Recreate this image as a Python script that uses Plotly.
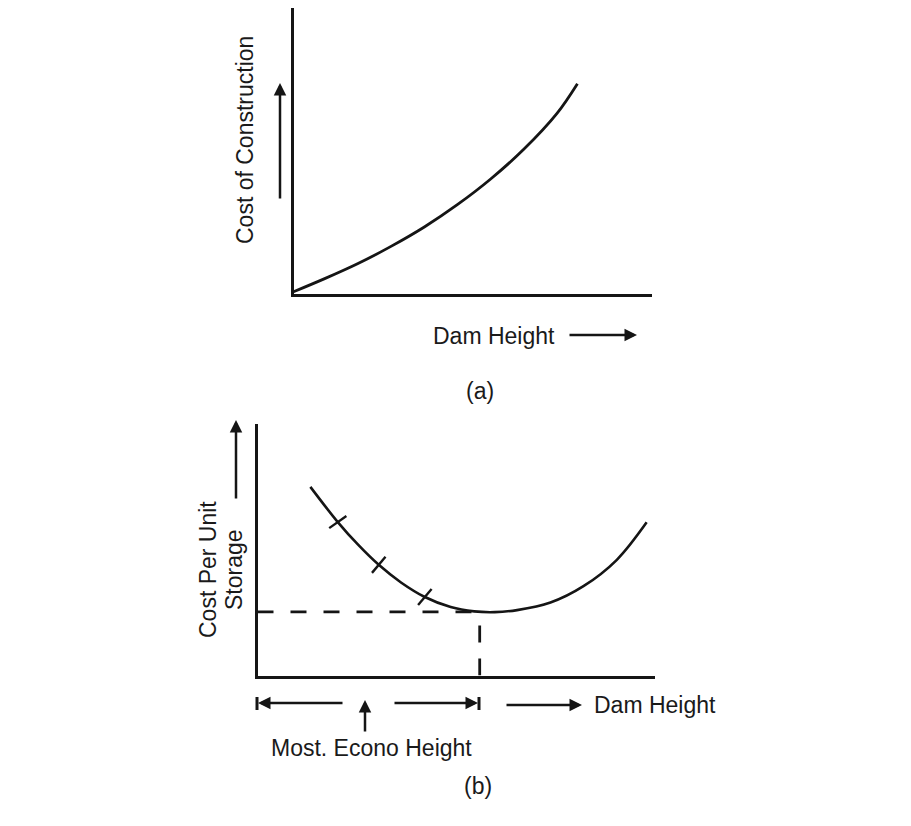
import plotly.graph_objects as go

W, H = 911, 826
OFF = 8  # default page body margin of the browser
INK = "#151515"
FONT = "Liberation Sans, Arial, Helvetica, sans-serif"
FS = 23

# ---- data (arbitrary units 0..10) ----
# (a) cost of construction vs dam height
height_a = [0.0, 0.87, 1.80, 2.72, 3.65, 4.57, 5.50, 6.43, 7.35, 7.92]
cost_a = [0.06, 0.52, 1.05, 1.65, 2.33, 3.11, 4.01, 5.06, 6.31, 7.35]

# (b) cost per unit storage vs dam height
height_b = [1.33, 2.02, 2.53, 3.05, 3.61, 4.21, 4.86, 5.45, 5.97, 6.53, 7.37, 8.20, 9.04, 9.79]
cost_b = [7.50, 6.10, 5.20, 4.40, 3.70, 3.12, 2.72, 2.55, 2.52, 2.60, 2.90, 3.55, 4.60, 6.09]

# tick marks on curve (b)
tick_x = [2.02, 3.05, 4.21]
tick_y = [6.10, 4.40, 3.12]
tick_angle = [55, 40, 40]

# most economical height
econ_x = 5.59
econ_y = 2.53


def px(x):
    return (x - OFF) / W


def py(y):
    return 1 - (y - OFF) / H


fig = go.Figure()

fig.add_trace(go.Scatter(x=height_a, y=cost_a, mode="lines", xaxis="x", yaxis="y",
                         line=dict(color=INK, width=2.8, shape="spline"), hoverinfo="skip"))

fig.add_trace(go.Scatter(x=height_b, y=cost_b, mode="lines", xaxis="x2", yaxis="y2",
                         line=dict(color=INK, width=2.6, shape="spline"), hoverinfo="skip"))

fig.add_trace(go.Scatter(x=tick_x, y=tick_y, mode="markers", xaxis="x2", yaxis="y2",
                         marker=dict(symbol="line-ns", size=15, angle=tick_angle,
                                     color=INK, line=dict(color=INK, width=2.4)),
                         hoverinfo="skip"))

fig.add_trace(go.Scatter(x=[0, econ_x], y=[econ_y, econ_y], mode="lines", xaxis="x2", yaxis="y2",
                         line=dict(color=INK, width=2.8, dash="16px,17px"), hoverinfo="skip"))
fig.add_trace(go.Scatter(x=[econ_x, econ_x], y=[0, econ_y], mode="lines", xaxis="x2", yaxis="y2",
                         line=dict(color=INK, width=2.8, dash="17px,16px"), hoverinfo="skip"))

LW = 3
axis_common = dict(showline=True, linecolor=INK, linewidth=LW, showgrid=False, zeroline=False,
                   showticklabels=False, ticks="", range=[0, 10], fixedrange=True)

layout = dict(
    width=W, height=H, margin=dict(l=0, r=0, t=0, b=0),
    paper_bgcolor="white", plot_bgcolor="white", showlegend=False,
    xaxis=dict(domain=[px(292 + 1.5), px(652)], anchor="y", **axis_common),
    yaxis=dict(domain=[py(295 - 1.5), py(8)], anchor="x", **axis_common),
    xaxis2=dict(domain=[px(256 + 1.5), px(655)], anchor="y2", **axis_common),
    yaxis2=dict(domain=[py(677 - 1.5), py(424)], anchor="x2", **axis_common),
)

annotations = []


def arrow(hx, hy, tx, ty):
    annotations.append(dict(x=px(hx), y=py(hy), xref="paper", yref="paper",
                            ax=tx - hx, ay=ty - hy, axref="pixel", ayref="pixel",
                            showarrow=True, arrowhead=2, arrowsize=1, arrowwidth=2.5,
                            arrowcolor=INK, standoff=0, startstandoff=0, text=""))


def label(text, x, y, angle=0):
    annotations.append(dict(x=px(x), y=py(y), xref="paper", yref="paper", text=text,
                            showarrow=False, xanchor="center", yanchor="middle",
                            textangle=angle, font=dict(family=FONT, size=FS, color="#1a1a1a")))


# panel (a)
arrow(280, 83, 280, 200)
arrow(637, 335, 568, 335)
label("Cost of Construction", 245, 140, -90)
label("Dam Height", 494, 336)
label("(a)", 480, 391)

# panel (b)
arrow(236, 420, 236, 500)
label("Cost Per Unit", 208, 570, -90)
label("Storage", 234, 570, -90)
arrow(258, 703, 344, 703)
arrow(365, 700, 365, 733)
arrow(478, 703, 393, 703)
arrow(582, 705, 505, 705)
label("Dam Height", 655, 705)
label("Most. Econo Height", 371, 748)
label("(b)", 478, 786)

layout["annotations"] = annotations

shapes = []
for bx in (257, 479):
    shapes.append(dict(type="line", xref="paper", yref="paper",
                       x0=px(bx), x1=px(bx), y0=py(697), y1=py(710),
                       line=dict(color=INK, width=3)))
layout["shapes"] = shapes

fig.update_layout(**layout)
fig.write_html("out.html")
